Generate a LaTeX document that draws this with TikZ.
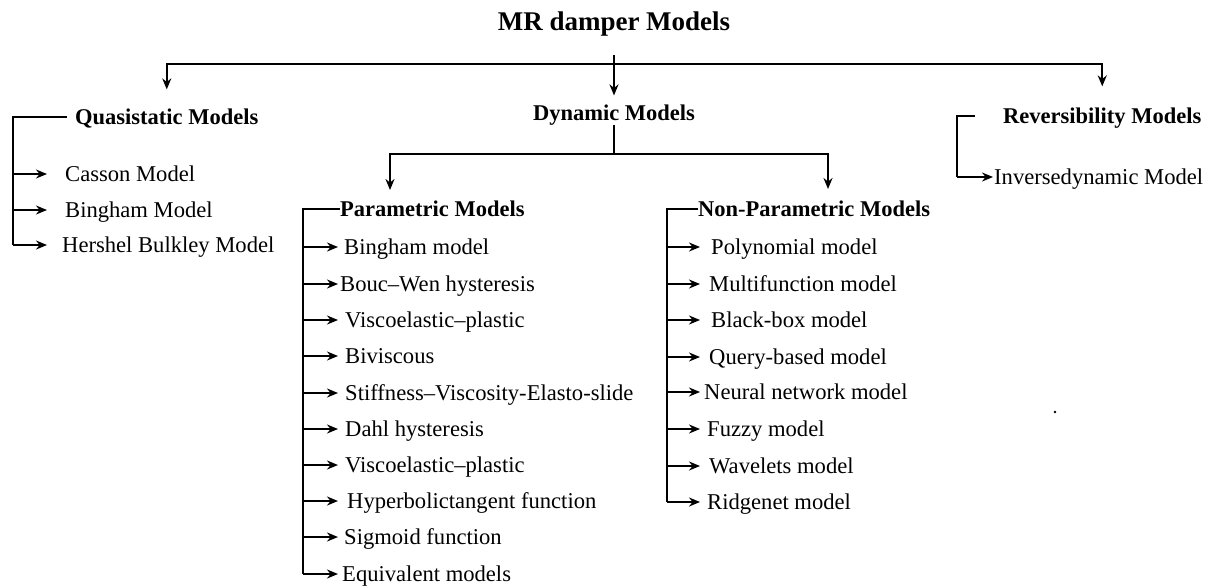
\documentclass[tikz,border=0pt]{standalone}
\usepackage{fontspec}
\setmainfont{Liberation Serif}
\usetikzlibrary{arrows.meta}

\tikzset{
	link/.style={line width=1.8pt},
	bar/.style={line width=2.8pt},
	arr/.style={line width=1.8pt, -{Stealth[length=11pt, width=9pt]}},
	head/.style={font=\bfseries\fontsize{22.5}{26}\selectfont, inner sep=0pt, text height=14.8pt, text depth=0pt},
	item/.style={font=\fontsize{22.6}{26}\selectfont, inner ysep=0pt, text height=14.9pt, text depth=0pt, anchor=west},
}

\begin{document}
\begin{tikzpicture}[x=1pt, y=-1pt]
		\useasboundingbox (0,0) rectangle (1215,587);

		\node [head, font=\bfseries\fontsize{27}{32}\selectfont, text height=17.8pt] (title) at (614,22) {MR damper Models};
		\node [head] (dyn) at (614,113) {Dynamic Models};
		\node [head, anchor=west] (quasi) at (75,117) {Quasistatic Models};
		\node [head, anchor=west] (rev) at (1003,116) {Reversibility Models};
		\node [head, anchor=west] (param) at (340,209) {Parametric Models};
		\node [head, anchor=west] (nonparam) at (698,209) {Non-Parametric Models};

		\coordinate (top) at (614,55);
		\coordinate (rail) at (614,64);
		\coordinate (split) at (614,154);
		\coordinate (parrow) at (390,190);
		\coordinate (nparrow) at (828,189);
		\coordinate (qbar) at (13,0);
		\coordinate (pbar) at (303,0);
		\coordinate (nbar) at (667,0);
		\coordinate (rbar) at (957,0);

		\draw [arr, shorten >=10pt] (top) -- (dyn.north);
		\draw [arr, shorten >=20pt] (rail) -| (quasi.north);
		\draw [arr, shorten >=22pt] (rail) -| (rev.north);
		\draw [link, shorten <=4pt] (dyn.south) -- (split);
		\draw [arr] (split) -| (parrow);
		\draw [arr] (split) -| (nparrow);

		\foreach \i/\y/\g/\t in {1/174/18/Casson Model, 2/210/18/Bingham Model, 3/245/15/Hershel Bulkley Model} {
			\node [item, inner xsep=\g] (qs-\i) at (47,\y) {\t};
		}
		\draw [bar, shorten <=8pt] (quasi.west) -| (qbar |- qs-3.west);
		\foreach \i in {1,2,3}
			\draw [arr] (qbar |- qs-\i.west) -- (qs-\i.west);

		\foreach \i/\y/\g/\t in {1/247/6/Bingham model, 2/284/2/Bouc–Wen hysteresis, 3/320/7/Viscoelastic–plastic, 4/356/7/Biviscous, 5/393/7/Stiffness–Viscosity-Elasto-slide, 6/429/7/Dahl hysteresis, 7/465/7/Viscoelastic–plastic, 8/501/9/Hyperbolictangent function, 9/537/6/Sigmoid function, 10/574/4/Equivalent models} {
			\node [item, inner xsep=\g] (pm-\i) at (338,\y) {\t};
		}
		\draw [bar] (param.west) -| (pbar |- pm-10.west);
		\foreach \i in {1,...,10}
			\draw [arr] (pbar |- pm-\i.west) -- (pm-\i.west);

		\foreach \i/\y/\g/\t in {1/247/11/Polynomial model, 2/284/9/Multifunction model, 3/320/11/Black-box model, 4/357/9/Query-based model, 5/392/4/Neural network model, 6/429/7/Fuzzy model, 7/466/9/Wavelets model, 8/502/7/Ridgenet model} {
			\node [item, inner xsep=\g] (nm-\i) at (700,\y) {\t};
		}
		\draw [bar] (nonparam.west) -| (nbar |- nm-8.west);
		\foreach \i in {1,...,8}
			\draw [arr] (nbar |- nm-\i.west) -- (nm-\i.west);

		\node [item, inner xsep=1] (rv-1) at (993,177) {Inversedynamic Model};
		\draw [link, shorten <=28pt] (rev.west) -| (rbar |- rv-1.west);
		\draw [arr] (rbar |- rv-1.west) -- (rv-1.west);

		\fill (1055,412) circle (1.3);
	\end{tikzpicture}
\end{document}
